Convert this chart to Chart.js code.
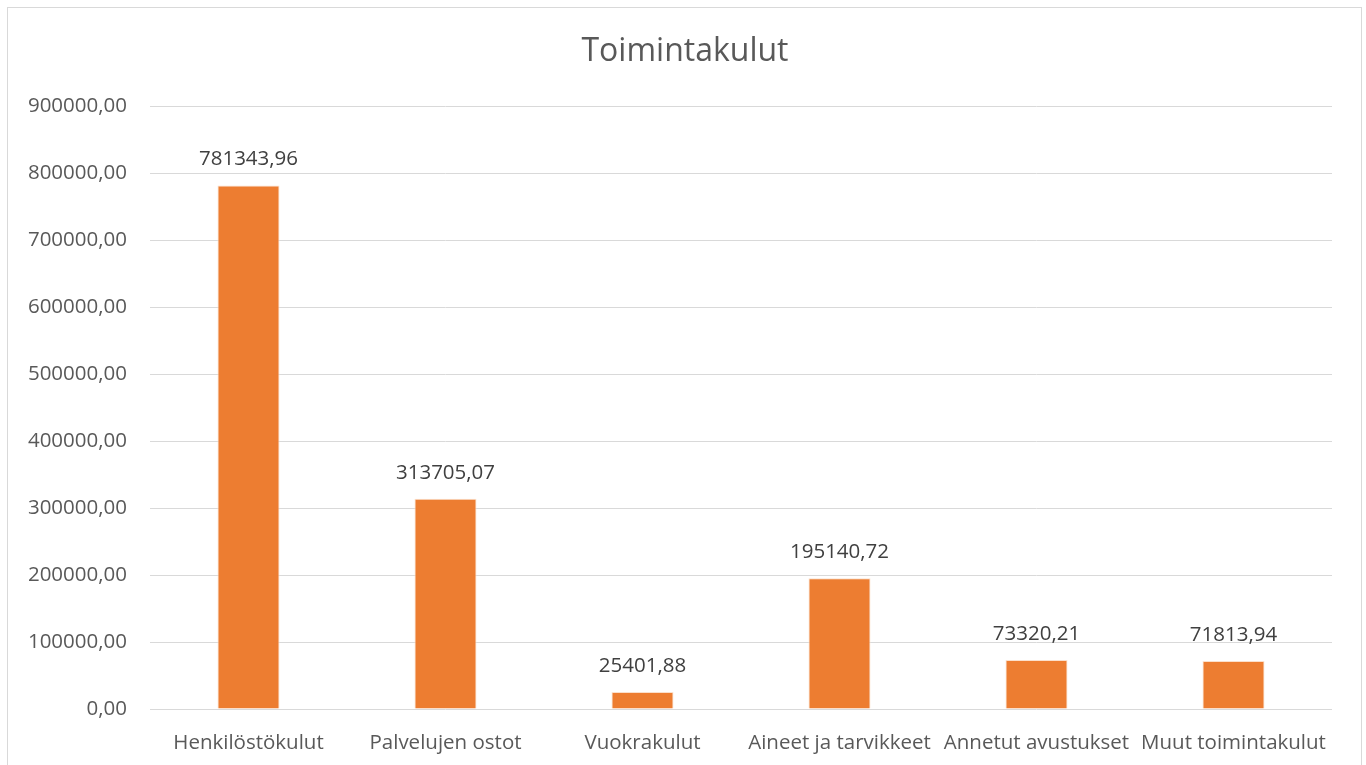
<!DOCTYPE html>
<html>
<head>
<meta charset="utf-8">
<script src="https://cdn.jsdelivr.net/npm/chart.js@4.4.0/dist/chart.umd.min.js"></script>
<style>
  body { margin: 0; background: #fff; overflow: hidden; }
  .frame { position: absolute; left: 7px; top: 7px; width: 1353px; height: 800px; border: 1px solid #d9d9d9; }
  .wrap { position: absolute; left: 0; top: 0; width: 1366px; height: 765px; }
</style>
</head>
<body>
<div class="frame"></div>
<div class="wrap"><canvas id="chart" width="1366" height="765"></canvas></div>
<script>
const categories = ["Henkilöstökulut", "Palvelujen ostot", "Vuokrakulut", "Aineet ja tarvikkeet", "Annetut avustukset", "Muut toimintakulut"];
const values = [781343.96, 313705.07, 25401.88, 195140.72, 73320.21, 71813.94];
const yTicks = [0, 100000, 200000, 300000, 400000, 500000, 600000, 700000, 800000, 900000];
const chartTitle = "Toimintakulut";

const fi = v => v.toFixed(2).replace('.', ',');
const FONT = "'Open Sans', sans-serif";

// value labels above the bars + title centred on the whole frame
const barLabels = {
  id: 'barLabels',
  afterDatasetsDraw(chart) {
    const ctx = chart.ctx;
    const meta = chart.getDatasetMeta(0);
    ctx.save();
    ctx.font = "20.5px " + FONT;
    ctx.fillStyle = "#404040";
    ctx.textAlign = "center";
    ctx.textBaseline = "middle";
    meta.data.forEach((bar, i) => {
      ctx.fillText(fi(values[i]), bar.x, bar.y - 26);
    });
    ctx.font = "32px " + FONT;
    ctx.fillStyle = "#595959";
    ctx.fillText(chartTitle, chart.width / 2 + 2, 52);
    ctx.restore();
  }
};

new Chart(document.getElementById("chart"), {
  type: "bar",
  data: {
    labels: categories,
    datasets: [{
      data: values,
      backgroundColor: "#ED7D31",
      borderColor: "#fbe0cc",
      borderWidth: 1,
      barPercentage: 0.315,
      categoryPercentage: 1
    }]
  },
  options: {
    responsive: false,
    animation: false,
    layout: { padding: { left: 0, right: 34, top: 106, bottom: 0 } },
    plugins: {
      legend: { display: false },
      tooltip: { enabled: false },
      title: { display: false }
    },
    scales: {
      x: {
        grid: { display: false },
        border: { display: false },
        ticks: { color: "#595959", font: { family: FONT, size: 20.5 }, padding: 14, maxRotation: 0, autoSkip: false },
        afterFit: s => { s.height = 56; }
      },
      y: {
        min: 0,
        max: 900000,
        afterBuildTicks: s => { s.ticks = yTicks.map(v => ({ value: v })); },
        grid: { color: "#d9d9d9", lineWidth: 1, drawTicks: false },
        border: { display: false },
        ticks: { color: "#595959", font: { family: FONT, size: 20.5 }, padding: 23, callback: v => fi(v) },
        afterFit: s => { s.width = 150; }
      }
    }
  },
  plugins: [barLabels]
});
</script>
</body>
</html>
